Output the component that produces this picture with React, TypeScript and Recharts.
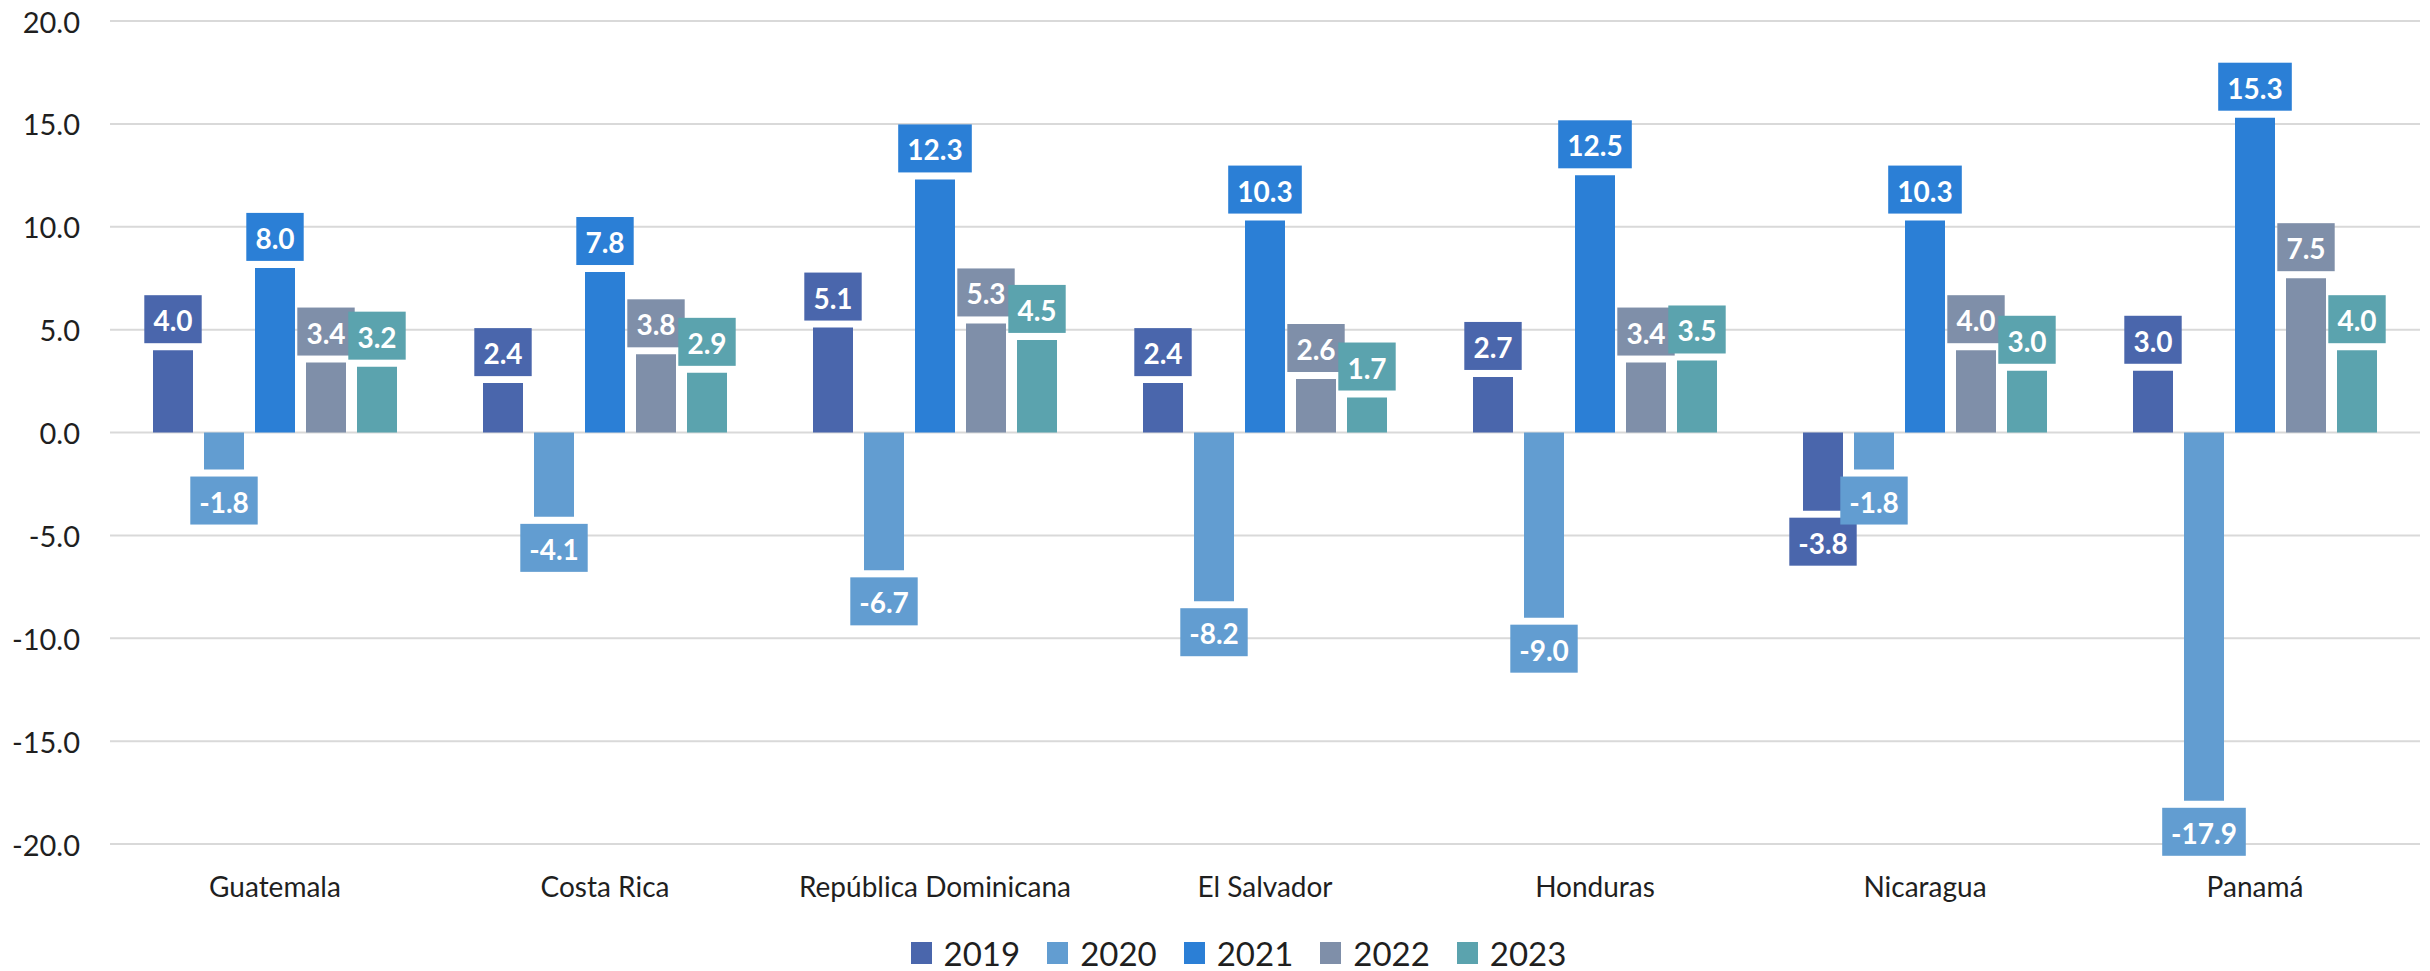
import React from 'react';
import { BarChart, Bar, XAxis, YAxis, CartesianGrid, Legend, LabelList } from 'recharts';

const countries = ['Guatemala', 'Costa Rica', 'República Dominicana', 'El Salvador', 'Honduras', 'Nicaragua', 'Panamá'];
const y2019 = [4.0, 2.4, 5.1, 2.4, 2.7, -3.8, 3.0];
const y2020 = [-1.8, -4.1, -6.7, -8.2, -9.0, -1.8, -17.9];
const y2021 = [8.0, 7.8, 12.3, 10.3, 12.5, 10.3, 15.3];
const y2022 = [3.4, 3.8, 5.3, 2.6, 3.4, 4.0, 7.5];
const y2023 = [3.2, 2.9, 4.5, 1.7, 3.5, 3.0, 4.0];
const yTicks = [-20, -15, -10, -5, 0, 5, 10, 15, 20];

const series = [
  { key: '2019', values: y2019, color: '#4A66AC' },
  { key: '2020', values: y2020, color: '#629DD1' },
  { key: '2021', values: y2021, color: '#2B7FD6' },
  { key: '2022', values: y2022, color: '#7F8FA9' },
  { key: '2023', values: y2023, color: '#5BA3AE' },
];

const data = countries.map((name, i) => {
  const row: Record<string, string | number> = { name };
  series.forEach((s) => { row[s.key] = s.values[i]; });
  return row;
});

const FONT = 'Lato, "Open Sans", sans-serif';

// rough width of the label text in Lato bold 28px
const textWidth = (t: string) =>
  t.split('').reduce((w, c) => w + (c === '.' ? 8 : c === '-' ? 10 : 16.2), 0);

const makeLabel = (color: string) => (props: any) => {
  const { x, y, width, height, value } = props;
  if (value == null) return null;
  const txt = Number(value).toFixed(1);
  const boxW = textWidth(txt) + 17;
  const boxH = 48;
  const gap = 7;
  const top = Math.min(y, y + height);
  const bottom = Math.max(y, y + height);
  const cx = x + width / 2;
  const boxY = value >= 0 ? top - gap - boxH : bottom + gap;
  return (
    <g>
      <rect x={cx - boxW / 2} y={boxY} width={boxW} height={boxH} fill={color} />
      <text x={cx} y={boxY + boxH / 2 + 1} textAnchor="middle" dominantBaseline="central"
        fill="#fff" fontFamily={FONT} fontWeight={700} fontSize={28}>{txt}</text>
    </g>
  );
};

// y tick text, right edge 30px left of the plot area
const YTick = (props: any) => {
  const { y, payload } = props;
  return (
    <text x={80} y={y} textAnchor="end" dominantBaseline="central"
      fontFamily={FONT} fontSize={29} fill="#1f1f1f">{Number(payload.value).toFixed(1)}</text>
  );
};

const LegendContent = () => (
  <div style={{ display: 'flex', justifyContent: 'center', alignItems: 'center', height: 36, marginLeft: 84, fontFamily: FONT }}>
    {series.map((s) => (
      <div key={s.key} style={{ display: 'flex', alignItems: 'center', marginRight: 27 }}>
        <div style={{ width: 21, height: 22, background: s.color, marginRight: 12 }} />
        <span style={{ fontSize: 33, color: '#1f1f1f' }}>{s.key}</span>
      </div>
    ))}
  </div>
);

export default function App() {
  return (
    <div style={{ position: 'absolute', left: 0, top: 0, background: '#fff' }}>
      <BarChart width={2430} height={971} data={data} barSize={40} barGap={11}
        margin={{ top: 21, right: 10, bottom: 0, left: 0 }}>
        <CartesianGrid vertical={false} stroke="#d9d9d9" strokeWidth={2} />
        <XAxis dataKey="name" axisLine={false} tickLine={false} tickSize={0} tickMargin={33} height={91}
          interval={0} tick={{ fontFamily: FONT, fontSize: 28, fill: '#1f1f1f' }} />
        <YAxis width={110} domain={[-20, 20]} ticks={yTicks} axisLine={false} tickLine={false}
          tick={<YTick />} />
        <Legend verticalAlign="bottom" content={<LegendContent />} />
        {series.map((s) => (
          <Bar key={s.key} dataKey={s.key} fill={s.color} isAnimationActive={false}>
            <LabelList dataKey={s.key} content={makeLabel(s.color)} />
          </Bar>
        ))}
      </BarChart>
    </div>
  );
}
